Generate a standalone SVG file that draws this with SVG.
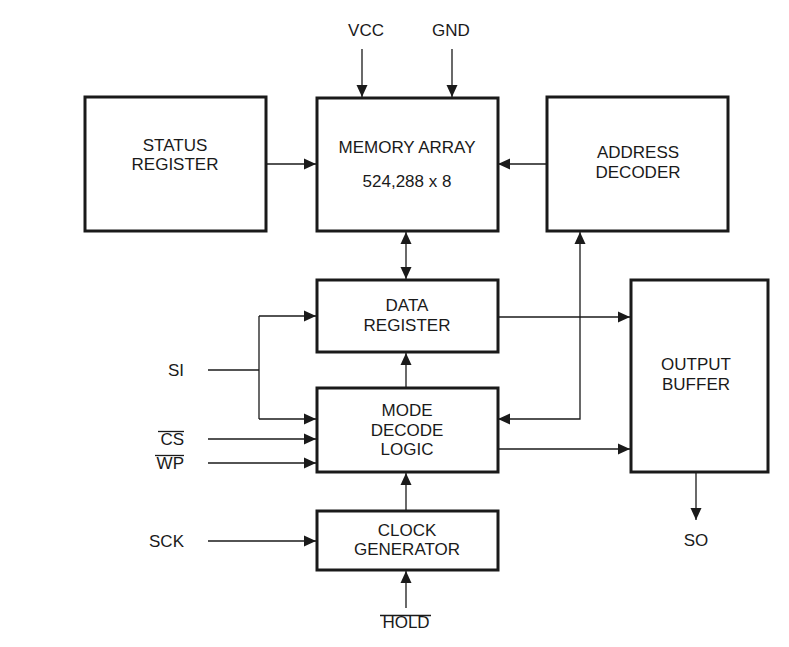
<svg xmlns="http://www.w3.org/2000/svg" width="789" height="647" viewBox="0 0 789 647">
<style>
.box{fill:#fff;stroke:#1a1a1a;stroke-width:3}
.t{font-family:"Liberation Sans",Arial,sans-serif;font-size:17px;fill:#1a1a1a;text-anchor:middle}
.l{font-family:"Liberation Sans",Arial,sans-serif;font-size:17px;fill:#1a1a1a;text-anchor:end}
.w{fill:none;stroke:#1a1a1a;stroke-width:1.3}
.ol{stroke:#1a1a1a;stroke-width:1.3}
</style>
<defs>
<marker id="ah" markerUnits="userSpaceOnUse" markerWidth="12" markerHeight="12" viewBox="0 0 12 12" refX="12" refY="6" orient="auto">
<path d="M0,0.5 L12,6 L0,11.5 Z" fill="#1a1a1a"/>
</marker>
<marker id="as" markerUnits="userSpaceOnUse" markerWidth="12" markerHeight="12" viewBox="0 0 12 12" refX="0" refY="6" orient="auto">
<path d="M12,0.5 L0,6 L12,11.5 Z" fill="#1a1a1a"/>
</marker>
</defs>
<rect width="789" height="647" fill="#fff"/>
<g id="connectors">
<path class="w" d="M362,49 V97" marker-end="url(#ah)"/>
<path class="w" d="M452,49 V97" marker-end="url(#ah)"/>
<path class="w" d="M266,164 H316" marker-end="url(#ah)"/>
<path class="w" d="M547,164 H498" marker-end="url(#ah)"/>
<path class="w" d="M406,232 V279" marker-start="url(#as)" marker-end="url(#ah)"/>
<path class="w" d="M498,317 H630" marker-end="url(#ah)"/>
<path class="w" d="M498,419 H580 V232" marker-start="url(#as)" marker-end="url(#ah)"/>
<path class="w" d="M498,449 H630" marker-end="url(#ah)"/>
<path class="w" d="M406,388 V353" marker-end="url(#ah)"/>
<path class="w" d="M406,510 V473" marker-end="url(#ah)"/>
<path class="w" d="M406,608 V571" marker-end="url(#ah)"/>
<path class="w" d="M696,473 V520" marker-end="url(#ah)"/>
<path class="w" d="M208,370 H259"/>
<path class="w" d="M259,316 V419"/>
<path class="w" d="M259,316 H316" marker-end="url(#ah)"/>
<path class="w" d="M259,419 H316" marker-end="url(#ah)"/>
<path class="w" d="M208,439 H316" marker-end="url(#ah)"/>
<path class="w" d="M208,463 H316" marker-end="url(#ah)"/>
<path class="w" d="M208,541 H316" marker-end="url(#ah)"/>
</g>
<g id="status-register">
<rect class="box" x="85" y="97" width="181" height="134"/>
<text class="t" x="175" y="151">STATUS</text>
<text class="t" x="175" y="170">REGISTER</text>
</g>
<g id="memory-array">
<rect class="box" x="317" y="98" width="181" height="133"/>
<text class="t" x="407" y="153">MEMORY ARRAY</text>
<text class="t" x="407" y="187">524,288 x 8</text>
</g>
<g id="address-decoder">
<rect class="box" x="547" y="97" width="181" height="134"/>
<text class="t" x="638" y="158">ADDRESS</text>
<text class="t" x="638" y="178">DECODER</text>
</g>
<g id="data-register">
<rect class="box" x="317" y="280" width="181" height="72"/>
<text class="t" x="407" y="311">DATA</text>
<text class="t" x="407" y="331">REGISTER</text>
</g>
<g id="mode-decode-logic">
<rect class="box" x="317" y="388" width="181" height="84"/>
<text class="t" x="407" y="416">MODE</text>
<text class="t" x="407" y="436">DECODE</text>
<text class="t" x="407" y="455">LOGIC</text>
</g>
<g id="clock-generator">
<rect class="box" x="317" y="511" width="181" height="59"/>
<text class="t" x="407" y="536">CLOCK</text>
<text class="t" x="407" y="555">GENERATOR</text>
</g>
<g id="output-buffer">
<rect class="box" x="631" y="280" width="137" height="192"/>
<text class="t" x="696" y="370">OUTPUT</text>
<text class="t" x="696" y="390">BUFFER</text>
</g>
<g id="vcc"><text class="t" x="366" y="36">VCC</text></g>
<g id="gnd"><text class="t" x="451" y="36">GND</text></g>
<g id="si"><text class="l" x="184" y="376">SI</text></g>
<g id="cs"><text class="l" x="184" y="445">CS</text><line class="ol" x1="158" y1="431.5" x2="184" y2="431.5"/></g>
<g id="wp"><text class="l" x="184" y="469">WP</text><line class="ol" x1="155" y1="455.5" x2="184" y2="455.5"/></g>
<g id="sck"><text class="l" x="184" y="547">SCK</text></g>
<g id="so"><text class="t" x="696" y="546">SO</text></g>
<g id="hold"><text class="t" x="406" y="628">HOLD</text><line class="ol" x1="380" y1="615.5" x2="431" y2="615.5"/></g>
</svg>
